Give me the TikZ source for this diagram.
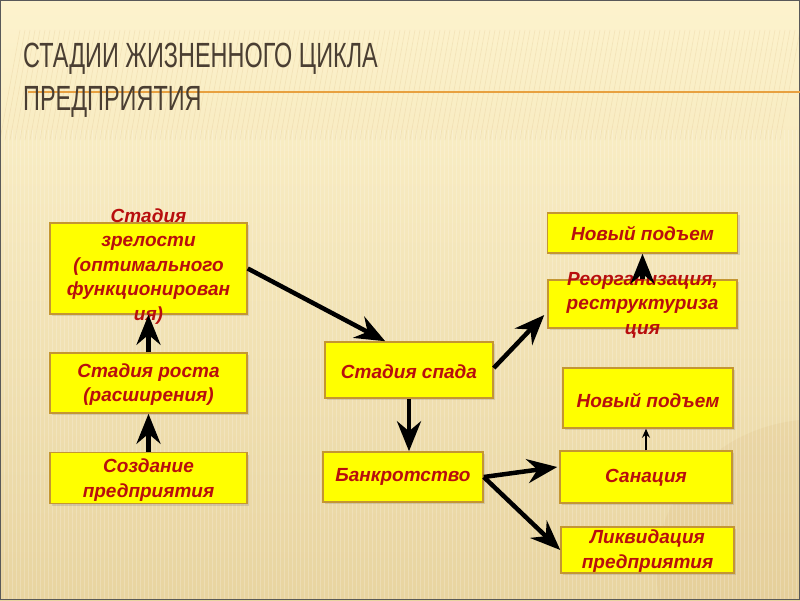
\documentclass[tikz,border=0pt]{standalone}
\usepackage{fontspec}
\setmainfont{Liberation Sans}
\newfontfamily\titlefont[FakeStretch=0.67]{Liberation Sans}
\usetikzlibrary{arrows.meta,shadows,calc}
\definecolor{bgtop}{RGB}{253,243,205}
\definecolor{bgbot}{RGB}{232,212,160}
\definecolor{boxyellow}{RGB}{255,255,0}
\definecolor{boxborder}{RGB}{196,150,50}
\definecolor{textred}{RGB}{184,14,14}
\definecolor{titlecol}{RGB}{74,62,50}
\definecolor{ruleorange}{RGB}{232,160,64}
\tikzset{
  box/.style={draw=boxborder, line width=1.5pt, fill=boxyellow, inner sep=0pt,
    drop shadow={opacity=0.25, shadow xshift=2pt, shadow yshift=-2pt}},
  lbl/.style={text=textred, align=center, inner sep=0pt,
    font=\bfseries\itshape\fontsize{19}{24.5}\selectfont},
  arr/.style={line width=4.5pt, -{Stealth[length=30pt,width=24pt,inset=10pt]}},
  thinarr/.style={line width=1.6pt, -{Stealth[length=9pt,width=8pt,inset=3pt]}}
}
\begin{document}
\begin{tikzpicture}[x=1pt,y=-1pt]
\useasboundingbox (0,0) rectangle (800,600);
% background
\shade[top color=bgtop, bottom color=bgbot] (0,0) rectangle (800,600);
\fill[bgbot!80!brown, opacity=0.25] (800,420) .. controls (700,430) and (640,520) .. (660,600) -- (800,600) -- cycle;
\foreach \i in {0,4,...,800} {
  \draw[white, opacity=0.2, line width=1pt] (\i,130) -- (\i,600);
}
\foreach \i in {0,5,...,780} {
  \draw[bgbot!70!brown, opacity=0.25, line width=0.6pt] (\i+20,30) -- (\i,140);
}
\draw[gray!70!black, line width=1.2pt] (0.6,0.6) rectangle (799.4,599.4);
% title
\draw[ruleorange, line width=2pt] (28,92) -- (800,92);
\node[anchor=base west, inner sep=0pt, align=left, text=titlecol,
  font=\titlefont\fontsize{35}{43}\selectfont] (title) at (23,110)
  {СТАДИИ ЖИЗНЕННОГО ЦИКЛА\\ПРЕДПРИЯТИЯ};
% boxes
\node[box, minimum width=197, minimum height=91] (zr) at (148.5,268.5) {};
\node[box, minimum width=197, minimum height=60] (ro) at (148.5,383) {};
\node[box, minimum width=197, minimum height=51] (so) at (148.5,478) {};
\node[box, minimum width=168, minimum height=56] (sp) at (409,370) {};
\node[box, minimum width=160, minimum height=50] (ba) at (403,477) {};
\node[box, minimum width=190, minimum height=40] (np1) at (642.5,233) {};
\node[box, minimum width=189, minimum height=48] (re) at (642.5,304) {};
\node[box, minimum width=170, minimum height=60] (np2) at (648,398) {};
\node[box, minimum width=172, minimum height=52] (sa) at (646,477) {};
\node[box, minimum width=173, minimum height=46] (li) at (647.5,550) {};
% labels
\node[lbl] (zrt) at (148.5,266.5) {Стадия\\зрелости\\(оптимального\\функционирован\\ия)};
\node[lbl] (rot) at (148.5,384.5) {Стадия роста\\(расширения)};
\node[lbl] (sot) at (148.5,480) {Создание\\предприятия};
\node[lbl] (spt) at (409,372) {Стадия спада};
\node[lbl] (bat) at (403,477) {Банкротство};
\node[lbl] (np1t) at (642.5,233) {Новый подъем};
\node[lbl] (ret) at (642.5,305) {Реорганизация,\\реструктуриза\\ция};
\node[lbl] (np2t) at (648,400) {Новый подъем};
\node[lbl] (sat) at (646,478) {Санация};
\node[lbl] (lit) at (647.5,551) {Ликвидация\\предприятия};
% connectors
\draw[arr] (so.north) -- (ro.south);
\draw[arr] (ro.north) -- (zr.south);
\draw[arr] (zr.east) -- ($(sp.north west)!0.36!(sp.north east)$);
\draw[arr] (sp.south) -- (ba.north -| sp.south);
\draw[arr] ($(sp.east)+(0,-2)$) -- ($(re.west)+(-3,11)$);
\draw[arr] (re.north) -- (np1.south);
\draw[arr] (ba.east) -- ($(sa.west)+(-2,-10)$);
\draw[arr] (ba.east) -- (li.west);
\draw[thinarr] (sa.north) -- (sa.north |- np2.south);
\end{tikzpicture}
\end{document}
